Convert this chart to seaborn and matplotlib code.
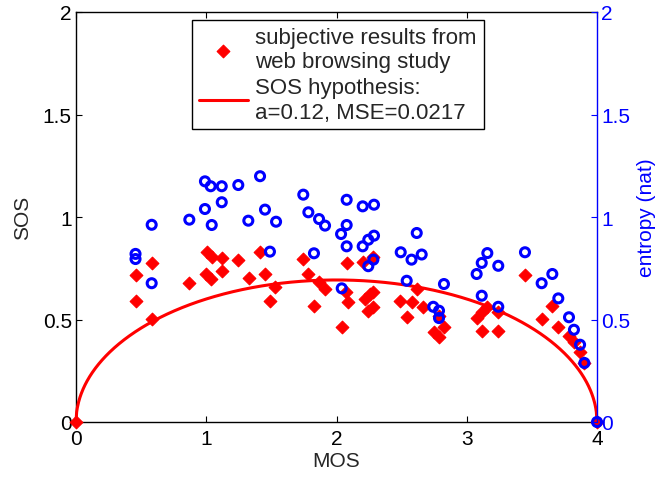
import numpy as np
import pandas as pd
import matplotlib
matplotlib.use("Agg")
import matplotlib.pyplot as plt
import seaborn as sns

# ---- data ----
mos_subj = [0.0, 4.0, 0.458, 0.458, 0.581, 0.581, 0.870, 1.003, 1.042, 1.119,
            1.246, 0.998, 1.034, 1.119, 1.328, 1.413, 1.451, 1.528, 1.489, 1.745,
            1.784, 1.866, 1.912, 1.827, 2.078, 2.206, 2.283, 2.073, 2.091, 2.040,
            2.219, 2.257, 2.283, 2.244, 2.283, 2.488, 2.577, 2.621, 2.539, 2.662,
            2.825, 2.749, 2.787, 2.787, 3.076, 3.115, 3.153, 3.115, 3.242, 3.242,
            3.447, 3.575, 3.657, 3.703, 3.785, 3.823, 3.870, 3.903]
sos_subj = [0.0, 0.0, 0.719, 0.589, 0.774, 0.502, 0.678, 0.831, 0.803, 0.799,
            0.792, 0.722, 0.698, 0.738, 0.701, 0.831, 0.722, 0.657, 0.592, 0.795,
            0.722, 0.684, 0.649, 0.567, 0.776, 0.782, 0.803, 0.633, 0.584, 0.462,
            0.600, 0.624, 0.633, 0.543, 0.559, 0.592, 0.584, 0.649, 0.511, 0.559,
            0.463, 0.440, 0.413, 0.519, 0.506, 0.535, 0.559, 0.445, 0.445, 0.535,
            0.719, 0.502, 0.567, 0.462, 0.418, 0.389, 0.340, 0.288]

mos_ent = [4.0, 0.457, 0.457, 0.581, 0.581, 0.870, 0.990, 1.034, 1.119, 1.246,
           1.119, 0.990, 1.042, 1.323, 1.413, 1.451, 1.536, 1.489, 1.745, 1.784,
           1.866, 1.912, 1.827, 2.078, 2.078, 2.035, 2.078, 2.201, 2.288, 2.201,
           2.244, 2.288, 2.283, 2.244, 2.040, 2.616, 2.493, 2.576, 2.654, 2.539,
           2.825, 2.743, 2.787, 2.787, 3.158, 3.115, 3.076, 3.242, 3.115, 3.242,
           3.447, 3.575, 3.657, 3.703, 3.785, 3.823, 3.870, 3.903]
entropy = [0.0, 0.820, 0.795, 0.962, 0.677, 0.987, 1.174, 1.150, 1.150, 1.156,
           1.072, 1.039, 0.961, 0.982, 1.199, 1.036, 0.977, 0.831, 1.109, 1.023,
           0.990, 0.958, 0.823, 1.084, 0.961, 0.917, 0.857, 1.052, 1.060, 0.857,
           0.889, 0.909, 0.792, 0.760, 0.652, 0.922, 0.828, 0.792, 0.817, 0.689,
           0.673, 0.562, 0.543, 0.507, 0.824, 0.776, 0.722, 0.762, 0.616, 0.562,
           0.828, 0.677, 0.722, 0.603, 0.511, 0.450, 0.377, 0.288]

a_param = 0.12          # SOS hypothesis parameter (from legend)
x_ticks = [0, 1, 2, 3, 4]
x_tick_labels = ["0", "1", "2", "3", "4"]
y_ticks = [0, 0.5, 1, 1.5, 2]
y_tick_labels = ["0", "0.5", "1", "1.5", "2"]
label_subj = "subjective results from\nweb browsing study"
label_hyp = "SOS hypothesis:\na=0.12, MSE=0.0217"

sns.set_style("ticks")
plt.rcParams['font.family'] = ['Liberation Sans', 'DejaVu Sans']
plt.rcParams['xtick.direction'] = 'in'
plt.rcParams['ytick.direction'] = 'in'

W, H = 659, 481
fig = plt.figure(figsize=(W / 100, H / 100), dpi=100)
ax = fig.add_axes([76 / W, 58 / H, 521 / W, 410 / H])

df_subj = pd.DataFrame({"MOS": mos_subj, "SOS": sos_subj})
df_ent = pd.DataFrame({"MOS": mos_ent, "entropy": entropy})

# SOS hypothesis curve: SOS^2 = a * MOS * (4 - MOS)
mos_curve = np.linspace(0, 4, 801)
sos_curve = np.sqrt(np.clip(a_param * mos_curve * (4 - mos_curve), 0, None))
df_curve = pd.DataFrame({"MOS": mos_curve, "SOS": sos_curve})

sns.scatterplot(data=df_subj, x="MOS", y="SOS", marker="D", color="#ff0000",
                edgecolor="#ff0000", linewidth=0.8, s=42, ax=ax,
                label=label_subj, zorder=3, clip_on=False)
sns.lineplot(data=df_curve, x="MOS", y="SOS", color="#ff0000", linewidth=2.2,
             ax=ax, label=label_hyp, zorder=4, clip_on=False)

ax.set_xlim(0, 4)
ax.set_ylim(0, 2)
ax.set_xticks(x_ticks)
ax.set_xticklabels(x_tick_labels)
ax.set_yticks(y_ticks)
ax.set_yticklabels(y_tick_labels)
ax.tick_params(axis="both", labelsize=15, length=4, width=0.8, colors="black",
               pad=3)
ax.tick_params(axis="x", top=True, pad=5)
ax.tick_params(axis="y", right=False)
for s in ["left", "bottom", "top"]:
    ax.spines[s].set_color("black")
    ax.spines[s].set_linewidth(1.0)
ax.spines["right"].set_visible(False)
ax.set_xlabel("MOS", fontsize=15, labelpad=2)
ax.set_ylabel("SOS", fontsize=15, labelpad=8)

leg = ax.legend(loc="upper left", bbox_to_anchor=((192 - 76) / 521, (423 - 21) / 410),
                borderaxespad=0, fontsize=16, frameon=True, fancybox=False,
                handlelength=2.2, handletextpad=0.35, labelspacing=0.25,
                borderpad=0.3, scatterpoints=1)
leg.get_frame().set_edgecolor("black")
leg.get_frame().set_linewidth(1.0)
leg.get_frame().set_alpha(1)

ax2 = ax.twinx()
sns.scatterplot(data=df_ent, x="MOS", y="entropy", marker="o",
                facecolor="none", edgecolor="#0000ff", linewidth=2.2, s=42,
                ax=ax2, zorder=5, clip_on=False)
ax2.set_ylim(0, 2)
ax2.set_yticks(y_ticks)
ax2.set_yticklabels(y_tick_labels)
ax2.tick_params(axis="y", labelsize=15, length=4, width=0.8, colors="#0000ff",
                direction="in", pad=3)
for s in ["left", "bottom", "top"]:
    ax2.spines[s].set_visible(False)
ax2.spines["right"].set_color("#0000ff")
ax2.spines["right"].set_linewidth(1.0)
ax2.set_ylabel("entropy (nat)", fontsize=15, color="#0000ff", labelpad=5)
ax2.set_xlim(0, 4)

fig.savefig("out.png", dpi=100)
